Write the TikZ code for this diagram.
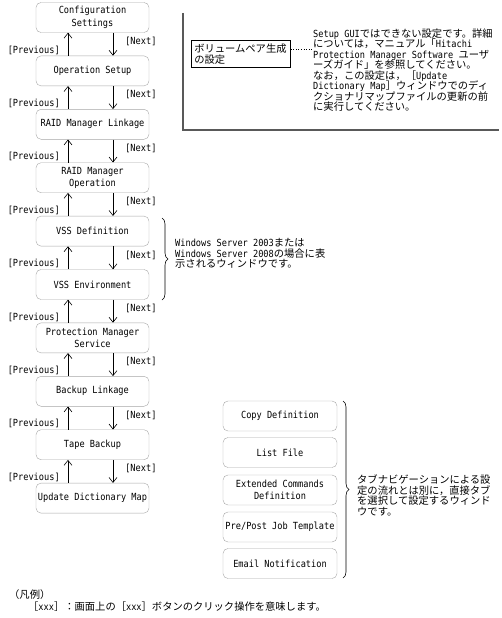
\documentclass[tikz,border=0pt]{standalone}
\usepackage{fontspec}
\setmainfont{DejaVu Sans Mono}[FakeStretch=0.88]
\newfontfamily\jp[Scale=1.05]{Noto Sans CJK JP}
\usetikzlibrary{positioning}
\usetikzlibrary{arrows.meta}
\usetikzlibrary{decorations.pathreplacing}
\tikzset{
    screen/.style = {rectangle, rounded corners=5pt, draw=gray!70, minimum width=113pt, minimum height=30pt, align=center, inner sep=1pt, font={\fontsize{9.8}{12.5}\selectfont}},
    memobox/.style = {rectangle, draw=black, line width=0.6pt, text width=93pt, minimum height=27pt, align=left, inner sep=3pt, font={\fontsize{9.8}{11}\selectfont\lineskiplimit=-20pt}},
    notetext/.style = {inner sep=0pt, align=left, anchor=north west, font={\fontsize{9.8}{10.5}\selectfont\lineskiplimit=-20pt}},
    edgeu/.style = {-{Straight Barb[length=5pt,width=8pt]}, line width=0.6pt},
    edged/.style = {-{Straight Barb[length=5pt,width=8pt]}, line width=0.6pt},
    prevlbl/.style = {pos=0.25, anchor=east, xshift=-7pt, inner sep=1pt, font={\fontsize{9.8}{10}\selectfont}},
    nextlbl/.style = {pos=0.375, anchor=west, xshift=11pt, inner sep=1pt, font={\fontsize{9.8}{10}\selectfont}},
    bracel/.style = {decorate, decoration={brace, amplitude=6pt}, line width=0.6pt},
    memoframe/.style = {draw=black!65, line width=1.2pt},
    dotline/.style = {dotted, line width=0.6pt} % memo link
}
\newcommand{\navpair}[2]{%
  \draw[edgeu] ([xshift=-24.5pt]#2.north) -- node[prevlbl] {[Previous]} ([xshift=-24.5pt]#1.south);
  \draw[edged] ([xshift=20.5pt]#1.south) -- node[nextlbl] {[Next]} ([xshift=20.5pt]#2.north);
}

\begin{document}
\begin{tikzpicture}[x=1pt,y=-1pt]
\useasboundingbox (0,0) rectangle (502,618);
% wizard screens
\node[screen] at (92.5, 17.5) (cs) {Configuration\\Settings};
\node[screen] at (92.5, 70.9) (os) {Operation Setup};
\node[screen] at (92.5,124.3) (rml) {RAID Manager Linkage};
\node[screen] at (92.5,177.7) (rmo) {RAID Manager\\Operation};
\node[screen] at (92.5,231.1) (vssd) {VSS Definition};
\node[screen] at (92.5,284.5) (vsse) {VSS Environment};
\node[screen] at (92.5,337.9) (pms) {Protection Manager\\Service};
\node[screen] at (92.5,391.3) (bl) {Backup Linkage};
\node[screen] at (92.5,444.7) (tb) {Tape Backup};
\node[screen] at (92.5,498.1) (udm) {Update Dictionary Map};
%
\navpair{cs}{os}
\navpair{os}{rml}
\navpair{rml}{rmo}
\navpair{rmo}{vssd}
\navpair{vssd}{vsse}
\navpair{vsse}{pms}
\navpair{pms}{bl}
\navpair{bl}{tb}
\navpair{tb}{udm}
%
\draw[bracel] (162,218) -- (162,300);
\node[notetext] at (175,238.5) (vssnote) {Windows Server 2003{\jp または}\\Windows Server 2008{\jp の場合に表}\\{\jp 示されるウィンドウです。}};
% tab screens
\node[screen, minimum width=114pt] at (280,416) (cd) {Copy Definition};
\node[screen, minimum width=114pt] at (280,452.5) (lf) {List File};
\node[screen, minimum width=114pt] at (280,490) (ecd) {Extended Commands\\Definition};
\node[screen, minimum width=114pt] at (280,527) (pjt) {Pre/Post Job Template};
\node[screen, minimum width=114pt] at (280,563.5) (en) {Email Notification};
\draw[bracel] (343,401) -- (343,578);
\node[notetext] at (357,474.5) (tabnote) {{\jp タブナビゲーションによる設}\\{\jp 定の流れとは別に，直接タブ}\\{\jp を選択して設定するウィンド}\\{\jp ウです。}};
% volume pair memo
\draw[memoframe] (183,13) -- (183,130) -- (499,130);
\node[memobox, anchor=north west] at (191,40) (vol) {{\jp ボリュームペア生成}\\{\jp の設定}};
\node[notetext] at (313,28.5) (memo) {Setup GUI{\jp ではできない設定です。詳細}\\{\jp については，マニュアル「}Hitachi\\Protection Manager Software {\jp ユーザ}\\{\jp ーズガイド」を参照してください。}\\{\jp なお，この設定は，［}Update\\Dictionary Map{\jp ］ウィンドウでのディ}\\{\jp クショナリマップファイルの更新の前}\\{\jp に実行してください。}};
\coordinate (memoend) at (312,49);
\draw[dotline] (vol.east |- memoend) -- (memoend);
% legend
\node[notetext, anchor=base west] at (9,598) (legend) {{\jp （凡例）}};
\node[notetext, anchor=base west] at (28,610) (legendx) {{\jp ［}xxx{\jp ］：画面上の［}xxx{\jp ］ボタンのクリック操作を意味します。}};
\end{tikzpicture}
\end{document}
